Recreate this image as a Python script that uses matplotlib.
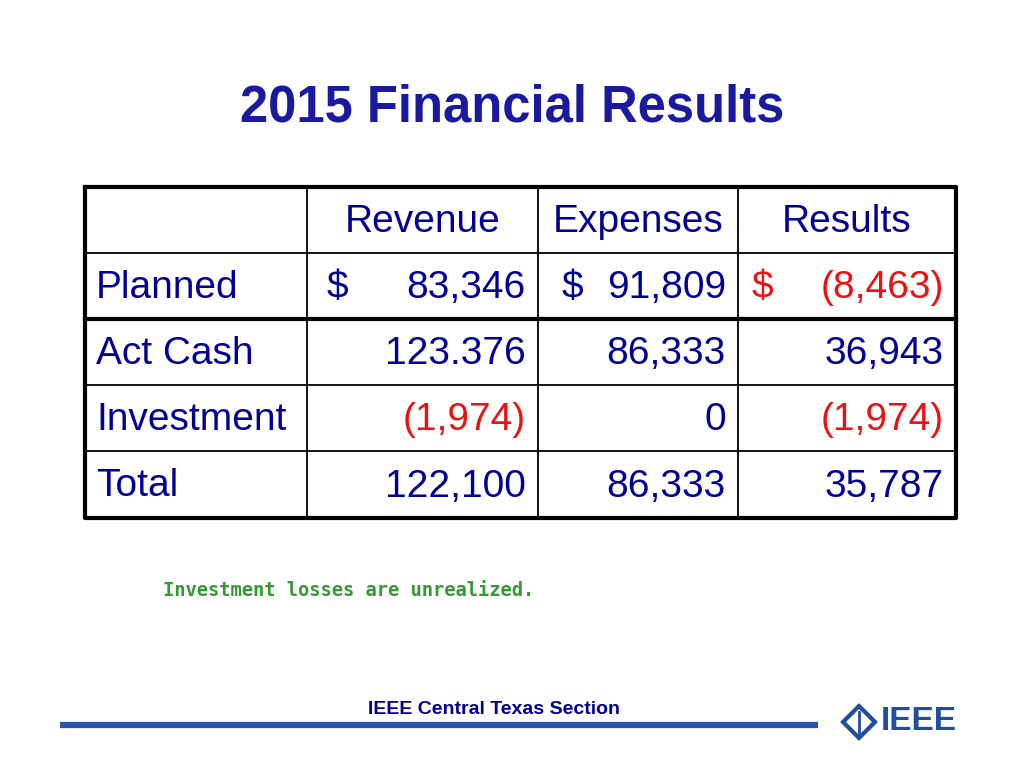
import matplotlib
matplotlib.use("Agg")
import matplotlib.pyplot as plt
from matplotlib.patches import Polygon

# Tabellendaten
COLUMNS = ["", "Revenue", "Expenses", "Results"]
ROW_LABELS = ["Planned", "Act Cash", "Investment", "Total"]
VALUES = [
    ["83,346", "91,809", "(8,463)"],
    ["123.376", "86,333", "36,943"],
    ["(1,974)", "0", "(1,974)"],
    ["122,100", "86,333", "35,787"],
]
DOLLAR_ROW = 0
DOLLAR_X = [327, 562, 752]
RED_CELLS = {(0, 2), (2, 0), (2, 2)}

BLUE = "#000099"
RED = "#ee1111"
FONT = "Liberation Sans"
FS = 28

col_x = [85, 307, 538, 738, 956]
row_y = [187, 253, 319, 385, 451, 518]

fig = plt.figure(figsize=(10.24, 7.68), dpi=100)
ax = fig.add_axes([0, 0, 1, 1])
ax.set_xlim(0, 1024)
ax.set_ylim(768, 0)
ax.axis("off")

ax.text(512, 108, "2015 Financial Results", color="#1a1aa0", fontsize=36.5,
        fontweight="bold", fontfamily=FONT, ha="center", va="center")

# Gitterlinien
for x in col_x[1:-1]:
    ax.plot([x, x], [row_y[0], row_y[-1]], color="black", lw=1.3)
for i, y in enumerate(row_y[1:-1], start=1):
    ax.plot([col_x[0], col_x[-1]], [y, y], color="black", lw=3 if i == 2 else 1.3)
ax.plot([col_x[0], col_x[-1], col_x[-1], col_x[0], col_x[0]],
        [row_y[0], row_y[0], row_y[-1], row_y[-1], row_y[0]], color="black", lw=3)

for j, name in enumerate(COLUMNS):
    if name:
        cx = (col_x[j] + col_x[j + 1]) / 2
        ax.text(cx, (row_y[0] + row_y[1]) / 2 - 2, name, color=BLUE, fontsize=FS,
                fontfamily=FONT, ha="center", va="center_baseline")

for i, label in enumerate(ROW_LABELS):
    cy = (row_y[i + 1] + row_y[i + 2]) / 2 - 2
    ax.text(col_x[0] + 11, cy, label, color=BLUE, fontsize=FS, fontfamily=FONT,
            ha="left", va="center_baseline")
    for j, val in enumerate(VALUES[i]):
        c = RED if (i, j) in RED_CELLS else BLUE
        ax.text(col_x[j + 2] - 12, cy, val, color=c, fontsize=FS, fontfamily=FONT,
                ha="right", va="center_baseline")
        if i == DOLLAR_ROW:
            ax.text(DOLLAR_X[j], cy, "$", color=c, fontsize=FS, fontfamily=FONT,
                    ha="left", va="center_baseline")

ax.text(163, 591, "Investment losses are unrealized.", color="#339933", fontsize=13.5,
        fontweight="bold", fontfamily="DejaVu Sans Mono", ha="left", va="center")

# Fusszeile
ax.plot([60, 818], [725, 725], color="#2a55a5", lw=4.5, solid_capstyle="butt")
ax.text(494, 709, "IEEE Central Texas Section", color=BLUE, fontsize=14,
        fontweight="bold", fontfamily=FONT, ha="center", va="center")

# IEEE Logo
ax.add_patch(Polygon([(859, 704), (877, 722), (859, 740), (841, 722)], closed=True,
                     facecolor="#1f4e9c", edgecolor="#1f4e9c"))
ax.add_patch(Polygon([(859, 710), (871, 722), (859, 734), (847, 722)], closed=True,
                     facecolor="white", edgecolor="white"))
ax.plot([859, 859], [712, 733], color="#1f4e9c", lw=2)
ax.text(919, 722, "IEEE", color="#1f4e9c", fontsize=24, fontweight="bold",
        fontfamily=FONT, ha="center", va="center")

fig.savefig("out.png", dpi=100, facecolor="white")
